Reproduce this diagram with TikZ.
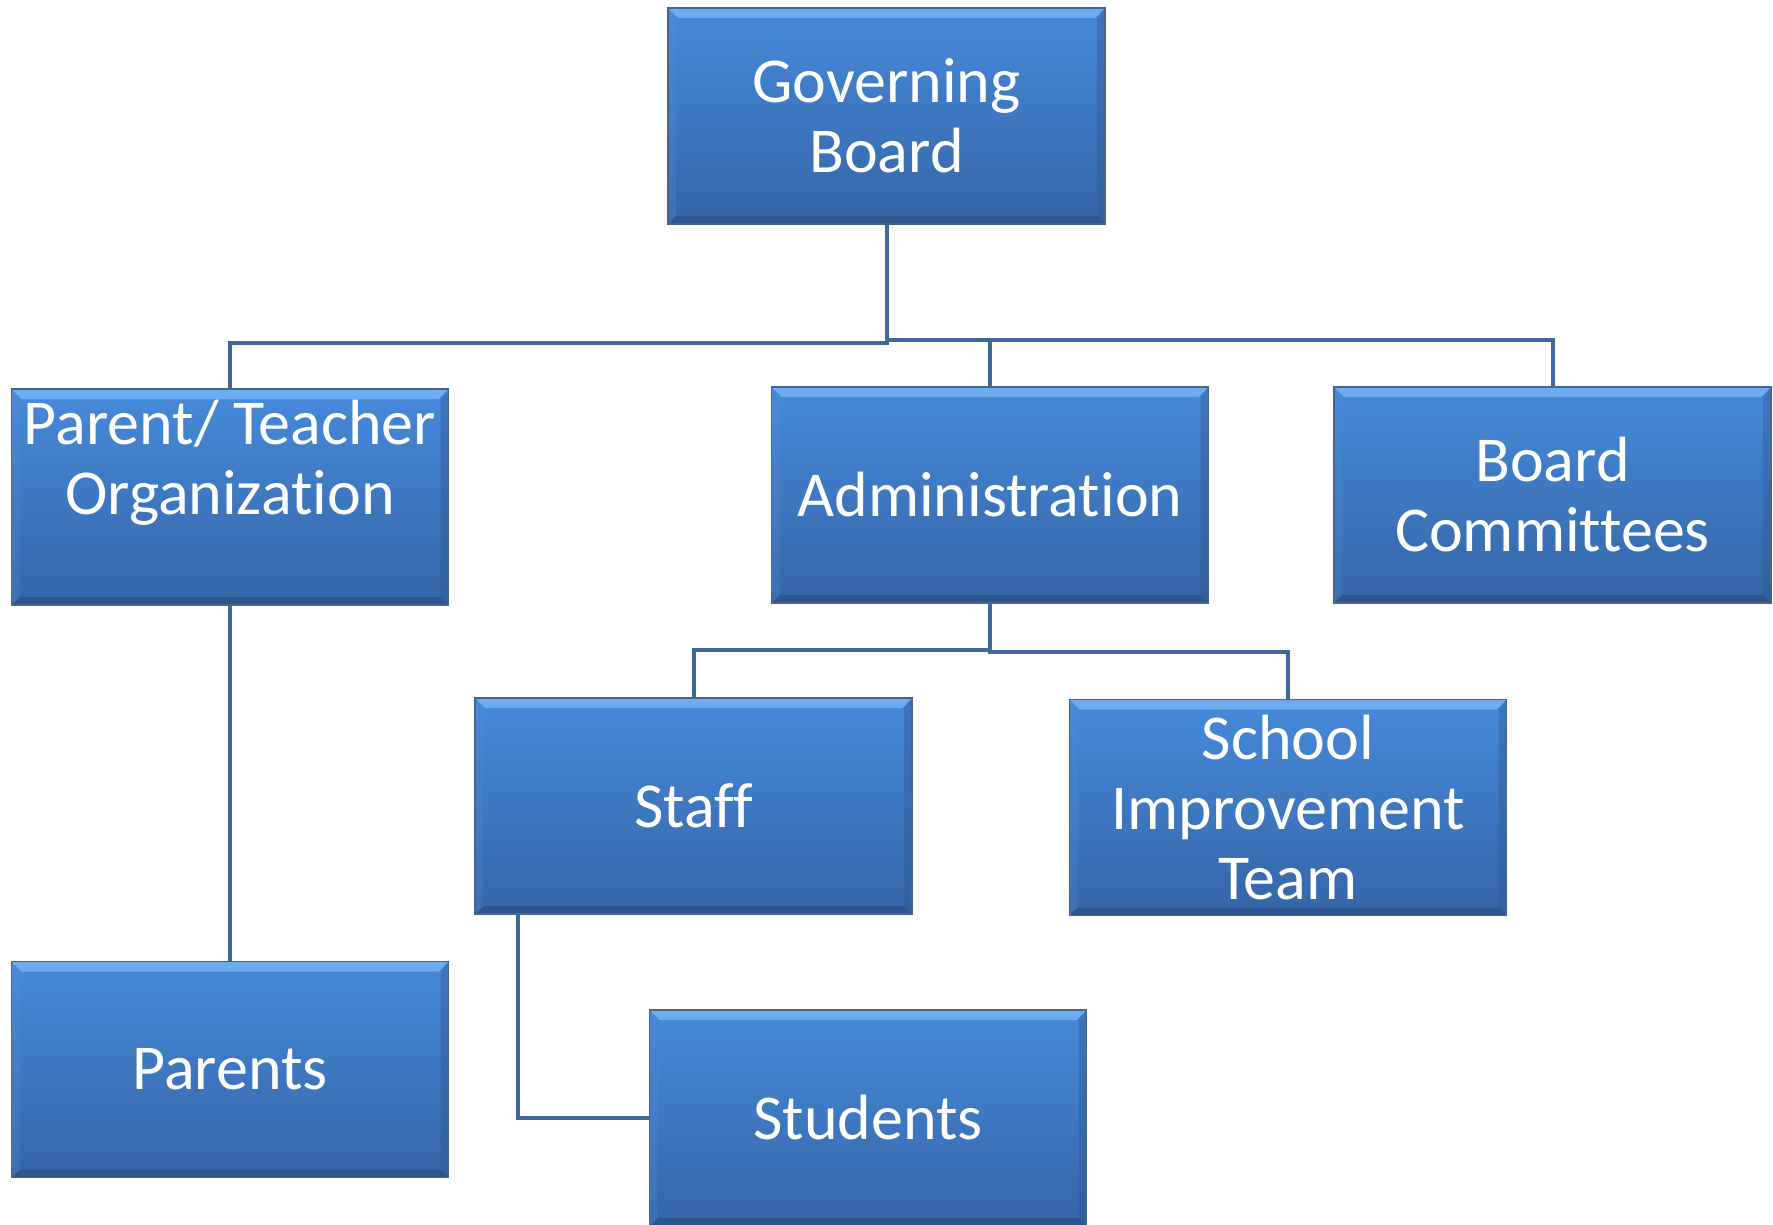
\documentclass[tikz,border=0pt]{standalone}
\usepackage{fontspec}
\setmainfont{Carlito}[Ligatures=NoCommon]
\definecolor{boxtop}{RGB}{70,138,218}
\definecolor{boxbot}{RGB}{53,101,166}
\definecolor{boxedge}{RGB}{70,100,140}
\definecolor{bevtop}{RGB}{120,180,245}
\definecolor{bevbot}{RGB}{40,72,118}
\definecolor{bevleft}{RGB}{80,140,210}
\definecolor{bevright}{RGB}{48,88,145}
\definecolor{linecol}{RGB}{64,104,156}
\tikzset{
  orgbox/.style={rectangle, minimum width=218.5pt, minimum height=108pt,
    inner sep=0pt, align=center, text=white,
    font=\fontsize{32}{35}\selectfont,
    top color=boxtop, bottom color=boxbot, draw=boxedge, line width=0.6pt,
    path picture={
      \coordinate (nw) at (path picture bounding box.north west);
      \coordinate (ne) at (path picture bounding box.north east);
      \coordinate (sw) at (path picture bounding box.south west);
      \coordinate (se) at (path picture bounding box.south east);
      \fill[bevtop, opacity=0.8] (nw) -- (ne) -- ([shift={(-5pt,-5pt)}]ne) -- ([shift={(5pt,-5pt)}]nw) -- cycle;
      \fill[bevbot, opacity=0.5] (sw) -- (se) -- ([shift={(-4pt,4pt)}]se) -- ([shift={(4pt,4pt)}]sw) -- cycle;
      \fill[bevleft, opacity=0.3] (nw) -- (sw) -- ([shift={(4pt,4pt)}]sw) -- ([shift={(4pt,-5pt)}]nw) -- cycle;
      \fill[bevright, opacity=0.4] (ne) -- (se) -- ([shift={(-4pt,4pt)}]se) -- ([shift={(-4pt,-5pt)}]ne) -- cycle;
    }},
  boxtext/.style={text=white, align=center, inner sep=0pt, font=\fontsize{32}{35}\selectfont},
  conn/.style={draw=linecol, line width=2pt}
}
\begin{document}
\begin{tikzpicture}[x=0.5pt,y=-0.5pt]
\useasboundingbox (0,0) rectangle (1773,1225);
\clip (0,0) rectangle (1773,1225);
\coordinate (j1) at (886.5,341);
\coordinate (j2) at (990,651);
\coordinate (bend) at (518,1118);
% boxes
\node[orgbox] (gb) at (886.5,116) {Governing\\Board};
\node[orgbox] (pto) at (230,497) {};
\node[boxtext] (ptotext) at (230,463) {Parent/ Teacher\\Organization};
\node[orgbox] (adm) at (990,495) {Administration};
\node[orgbox] (bc) at (1552.5,495) {Board\\Committees};
\node[orgbox] (staff) at (693.5,806) {Staff};
\node[orgbox] (sit) at (1288,807.5) {School\\Improvement\\Team};
\node[orgbox] (par) at (230,1069.5) {Parents};
\node[orgbox] (stu) at (868,1118) {Students};
% tree lines
\draw[conn] (gb.south) -- (j1);
\draw[conn] (j1) -- ++(0,2) -| (pto.north);
\draw[conn] (j1) -- ++(0,-1) -| (adm.north);
\draw[conn] (j1) -- ++(0,-1) -| (bc.north);
\draw[conn] (adm.south) -- (j2);
\draw[conn] (j2) -- ++(0,-1) -| (staff.north);
\draw[conn] (j2) -- ++(0,1) -| (sit.north);
\draw[conn] (pto.south) -- (par.north);
\draw[conn] (staff.south -| bend) -- (bend) -- (stu.west);
\end{tikzpicture}
\end{document}
